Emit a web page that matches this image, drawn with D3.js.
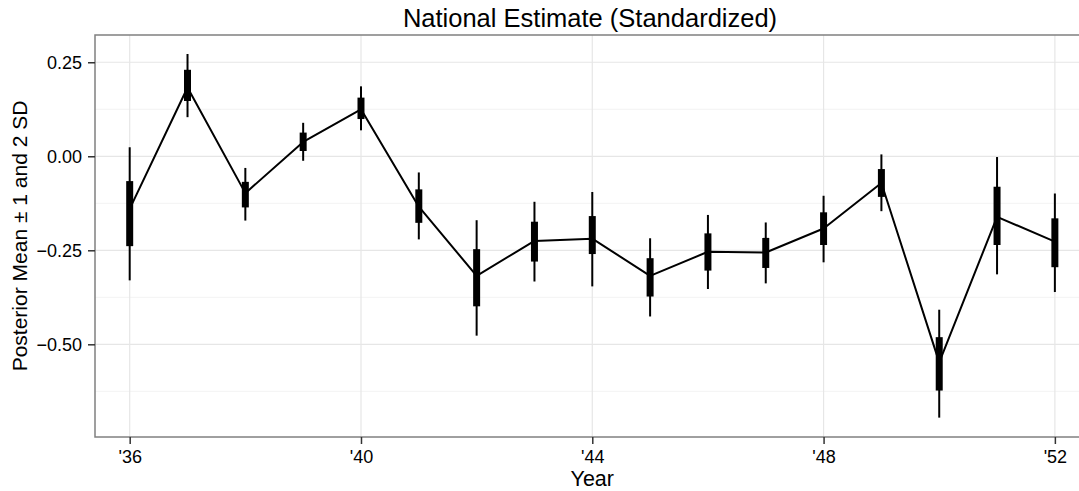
<!DOCTYPE html>
<html>
<head>
<meta charset="utf-8">
<script src="https://cdn.jsdelivr.net/npm/d3@7"></script>
<style>
  html, body { margin: 0; padding: 0; background: #fff; }
  svg { display: block; font-family: "Liberation Sans", Arial, Helvetica, sans-serif; }
</style>
</head>
<body>
<svg id="chart" width="1079" height="491"></svg>
<script>
// ---- data ----
const years    = [36, 37, 38, 39, 40, 41, 42, 43, 44, 45, 46, 47, 48, 49, 50, 51, 52];
const meanVals = [-0.140, 0.183, -0.098, 0.038, 0.125, -0.134, -0.318, -0.225, -0.219, -0.318, -0.254, -0.256, -0.192, -0.071, -0.548, -0.161, -0.227];
const lower1   = [-0.239, 0.147, -0.136, 0.014, 0.099, -0.177, -0.399, -0.280, -0.260, -0.373, -0.304, -0.297, -0.236, -0.108, -0.623, -0.236, -0.295];
const upper1   = [-0.066, 0.230, -0.068, 0.063, 0.156, -0.088, -0.247, -0.174, -0.159, -0.271, -0.205, -0.217, -0.149, -0.034, -0.481, -0.081, -0.165];
const lower2   = [-0.330, 0.104, -0.171, -0.012, 0.069, -0.221, -0.477, -0.333, -0.346, -0.426, -0.353, -0.338, -0.282, -0.146, -0.695, -0.314, -0.361];
const upper2   = [0.024, 0.272, -0.031, 0.089, 0.186, -0.043, -0.170, -0.121, -0.095, -0.218, -0.156, -0.176, -0.105, 0.005, -0.408, -0.002, -0.099];
const xTickValues = [36, 40, 44, 48, 52];
const xTickLabels = ["'36", "'40", "'44", "'48", "'52"];
const yTickValues = [0.25, 0, -0.25, -0.5];
const yMinorValues = [0.125, -0.125, -0.375, -0.625];
const titleText = "National Estimate (Standardized)";
const xTitle = "Year";
const yTitle = "Posterior Mean \u00B1 1 and 2 SD";

// ---- layout ----
const svg = d3.select("#chart");
const W = 1079, H = 491;
const m = { left: 95, top: 35, bottom: 437 };
const x = d3.scaleLinear().domain([35.4, 52.4]).range([m.left, 1078]);
const y = d3.scaleLinear().domain([0.3225, -0.7465]).range([m.top, m.bottom]);

const data = years.map((yr, i) => ({
  yr, mean: meanVals[i], lo1: lower1[i], hi1: upper1[i], lo2: lower2[i], hi2: upper2[i]
}));

// grid
const grid = svg.append("g");
grid.selectAll("line.ymin").data(yMinorValues).join("line")
  .attr("x1", m.left).attr("x2", W + 5)
  .attr("y1", d => y(d)).attr("y2", d => y(d))
  .attr("stroke", "#f3f3f3").attr("stroke-width", 1);
grid.selectAll("line.ymaj").data(yTickValues).join("line")
  .attr("x1", m.left).attr("x2", W + 5)
  .attr("y1", d => y(d)).attr("y2", d => y(d))
  .attr("stroke", "#e6e6e6").attr("stroke-width", 1.2);
grid.selectAll("line.xmaj").data(xTickValues).join("line")
  .attr("x1", d => x(d)).attr("x2", d => x(d))
  .attr("y1", m.top).attr("y2", m.bottom)
  .attr("stroke", "#e6e6e6").attr("stroke-width", 1.2);

// connecting line
svg.append("path").datum(data)
  .attr("fill", "none").attr("stroke", "#000").attr("stroke-width", 2)
  .attr("stroke-linejoin", "round")
  .attr("d", d3.line().x(d => x(d.yr)).y(d => y(d.mean)));

// 2 SD lines
svg.append("g").selectAll("line").data(data).join("line")
  .attr("x1", d => x(d.yr)).attr("x2", d => x(d.yr))
  .attr("y1", d => y(d.hi2)).attr("y2", d => y(d.lo2))
  .attr("stroke", "#000").attr("stroke-width", 2);

// 1 SD thick boxes
svg.append("g").selectAll("line").data(data).join("line")
  .attr("x1", d => x(d.yr)).attr("x2", d => x(d.yr))
  .attr("y1", d => y(d.hi1)).attr("y2", d => y(d.lo1))
  .attr("stroke", "#000").attr("stroke-width", 7);

// panel border (top + left + bottom; right side falls outside the window)
svg.append("rect")
  .attr("x", m.left).attr("y", m.top)
  .attr("width", W + 10 - m.left).attr("height", m.bottom - m.top)
  .attr("fill", "none").attr("stroke", "#808080").attr("stroke-width", 1.5);

// axes
const yAxis = d3.axisLeft(y).tickValues(yTickValues).tickFormat(d3.format(".2f"))
  .tickSize(7).tickPadding(6);
const gy = svg.append("g").attr("transform", `translate(${m.left},0)`).call(yAxis);
gy.select(".domain").remove();
gy.selectAll(".tick line").attr("stroke", "#333").attr("stroke-width", 1.5);
gy.selectAll(".tick text").attr("font-size", 18).attr("fill", "#000")
  .attr("font-family", "Liberation Sans, Arial, sans-serif");

const xAxis = d3.axisBottom(x).tickValues(xTickValues)
  .tickFormat((d, i) => xTickLabels[i]).tickSize(7).tickPadding(6);
const gx = svg.append("g").attr("transform", `translate(0,${m.bottom})`).call(xAxis);
gx.select(".domain").remove();
gx.selectAll(".tick line").attr("stroke", "#333").attr("stroke-width", 1.5);
gx.selectAll(".tick text").attr("font-size", 18).attr("fill", "#000")
  .attr("font-family", "Liberation Sans, Arial, sans-serif");

// titles
svg.append("text").attr("x", (m.left + W) / 2 + 3).attr("y", 27)
  .attr("text-anchor", "middle").attr("font-size", 25.5).attr("fill", "#000")
  .text(titleText);
svg.append("text").attr("x", x(44)).attr("y", 486)
  .attr("text-anchor", "middle").attr("font-size", 21.5).attr("fill", "#000")
  .text(xTitle);
svg.append("text")
  .attr("transform", `translate(27,${(m.top + m.bottom) / 2}) rotate(-90)`)
  .attr("text-anchor", "middle").attr("font-size", 21).attr("fill", "#000")
  .text(yTitle);
</script>
</body>
</html>
